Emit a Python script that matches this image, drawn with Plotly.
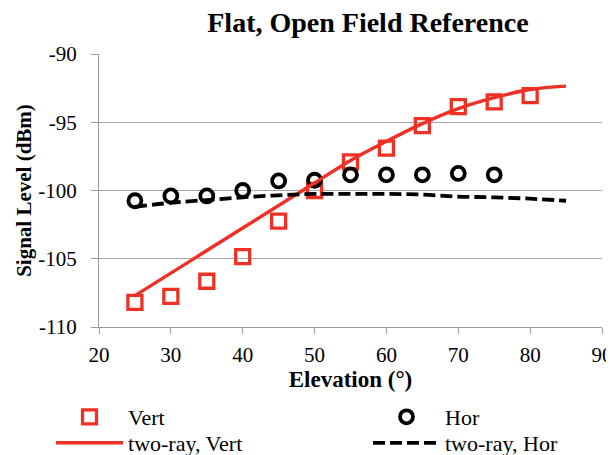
import plotly.graph_objects as go

elev_meas = [25, 30, 35, 40, 45, 50, 55, 60, 65, 70, 75, 80]
vert_meas = [-108.2, -107.75, -106.65, -104.85, -102.25, -100.0, -97.9, -96.9, -95.25, -93.85, -93.5, -93.05]
elev_hor = [25, 30, 35, 40, 45, 50, 55, 60, 65, 70, 75]
hor_meas = [-100.75, -100.4, -100.4, -100.0, -99.3, -99.25, -98.85, -98.85, -98.85, -98.75, -98.85]

elev_model = [25, 30, 35, 40, 45, 50, 55, 60, 65, 70, 75, 80, 85]
vert_model = [-107.7, -106.05, -104.4, -102.75, -101.1, -99.45, -97.8, -96.4, -95.1, -94.0, -93.2, -92.6, -92.35]
hor_model = [-101.2, -100.9, -100.7, -100.5, -100.35, -100.25, -100.25, -100.25, -100.3, -100.45, -100.5, -100.6, -100.75]

x_ticks = [20, 30, 40, 50, 60, 70, 80, 90]
x_tick_text = ["20", "30", "40", "50", "60", "70", "80", "90"]
y_ticks = [-110, -105, -100, -95, -90]
y_tick_text = ["-110", "-105", "-100", "-95", "-90"]

RED = "#EE3124"
FONT = "Liberation Serif"
AXC = "#9A9A9A"

fig = go.Figure()
fig.add_trace(go.Scatter(x=elev_meas, y=vert_meas, mode="markers", name="Vert",
                         marker=dict(symbol="square-open", size=14, color=RED, line=dict(width=3.3, color=RED)),
                         legend="legend"))
fig.add_trace(go.Scatter(x=elev_hor, y=hor_meas, mode="markers", name="Hor",
                         marker=dict(symbol="circle-open", size=13, color="black", line=dict(width=3.8, color="black")),
                         legend="legend2"))
fig.add_trace(go.Scatter(x=elev_model, y=vert_model, mode="lines", name="two-ray, Vert",
                         line=dict(color=RED, width=3.4, shape="spline"), legend="legend3"))
fig.add_trace(go.Scatter(x=elev_model, y=hor_model, mode="lines", name="two-ray, Hor",
                         line=dict(color="black", width=3.8, dash="12px,5px", shape="spline"), legend="legend4"))

legend_common = dict(orientation="v", xanchor="left", yanchor="middle", bgcolor="rgba(0,0,0,0)",
                     font=dict(family=FONT, size=22, color="black"), itemwidth=67)

# The page body has an 8px margin, so the figure is drawn 8px smaller and offset.
fig.update_layout(
    width=606, height=447,
    margin=dict(l=91, r=12, t=46, b=128, autoexpand=False),
    paper_bgcolor="white", plot_bgcolor="white",
    font=dict(family=FONT, color="black"),
    title=dict(text="<b>Flat, Open Field Reference</b>", x=0.594, xanchor="center",
               y=0.969, yanchor="middle", xref="container", yref="container",
               font=dict(family=FONT, size=28, color="black")),
    xaxis=dict(range=[20, 90], tickvals=x_ticks, ticktext=x_tick_text, showgrid=False, zeroline=False,
               showline=True, linecolor=AXC, linewidth=1,
               ticks="outside", ticklen=6, tickcolor=AXC, ticklabelstandoff=3,
               tickfont=dict(family=FONT, size=21, color="black"),
               title=dict(text="<b>Elevation (°)</b>", font=dict(family=FONT, size=23, color="black"), standoff=4)),
    yaxis=dict(range=[-110, -90], tickvals=y_ticks, ticktext=y_tick_text, showgrid=True, gridcolor="#A6A6A6", gridwidth=1,
               zeroline=False, showline=True, linecolor=AXC, linewidth=1,
               ticks="outside", ticklen=7, tickcolor=AXC, ticklabelstandoff=10,
               tickfont=dict(family=FONT, size=21, color="black"),
               title=dict(text="<b>Signal Level (dBm)</b>", font=dict(family=FONT, size=21, color="black"), standoff=0)),
    legend=dict(x=-0.0954, y=-0.3297, **legend_common),
    legend2=dict(x=0.5348, y=-0.3297, **legend_common),
    legend3=dict(x=-0.0954, y=-0.4249, **legend_common),
    legend4=dict(x=0.5348, y=-0.4249, **legend_common),
    showlegend=True,
)

fig.write_html("out.html")
